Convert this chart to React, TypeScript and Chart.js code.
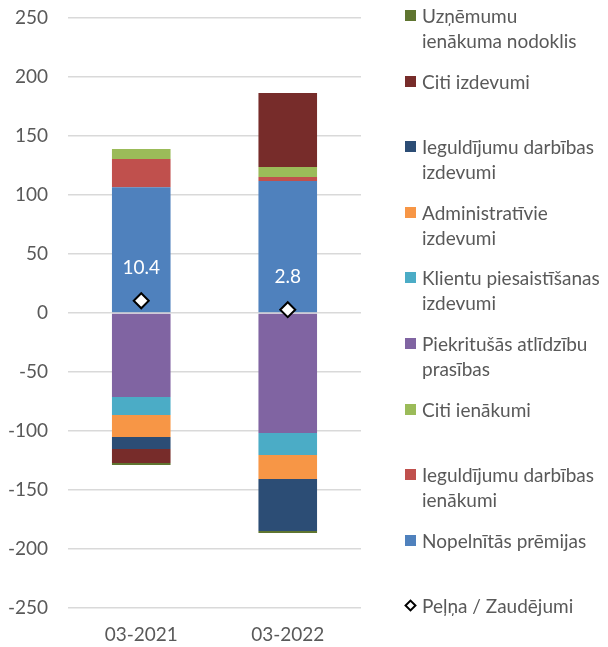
import React, { useEffect, useRef } from "react";
import { Chart, registerables } from "chart.js";

Chart.register(...registerables);

const CATEGORIES = ["03-2021", "03-2022"];

const NOPELNITAS_PREMIJAS = [106.5, 111.9];
const IEG_IENAKUMI = [24.0, 3.4];
const CITI_IENAKUMI = [8.5, 8.5];
const PIEKRITUSAS = [-71.2, -101.7];
const KLIENTU = [-15.2, -18.6];
const ADMINISTRATIVIE = [-18.7, -20.4];
const IEG_IZDEVUMI = [-10.2, -44.0];
const CITI_IZDEVUMI = [-11.8, 62.7];
const UIN = [-1.7, -1.7];
const PELNA = [10.4, 2.8];

const Y_TICKS = [-250, -200, -150, -100, -50, 0, 50, 100, 150, 200, 250];

// stacking order (bottom -> outward)
const SERIES = [
  { name: "Nopelnītās\u00a0prēmijas", data: NOPELNITAS_PREMIJAS, color: "#4F81BD" },
  { name: "Ieguldījumu darbības\nienākumi", data: IEG_IENAKUMI, color: "#C0504D" },
  { name: "Citi ienākumi", data: CITI_IENAKUMI, color: "#9BBB59" },
  { name: "Piekritušās atlīdzību\nprasības", data: PIEKRITUSAS, color: "#8064A2" },
  { name: "Klientu piesaistīšanas\nizdevumi", data: KLIENTU, color: "#4BACC6" },
  { name: "Administratīvie\nizdevumi", data: ADMINISTRATIVIE, color: "#F79646" },
  { name: "Ieguldījumu darbības\nizdevumi", data: IEG_IZDEVUMI, color: "#2C4D75" },
  { name: "Citi izdevumi", data: CITI_IZDEVUMI, color: "#772C2A" },
  { name: "Uzņēmumu\nienākuma nodoklis", data: UIN, color: "#5F7530" },
];
const PROFIT_NAME = "Peļņa / Zaudējumi";

const FONT = "Lato, 'Open Sans', sans-serif";
const TEXT = "#595959";

const labelPlugin = {
  id: "profitLabels",
  afterDatasetsDraw(chart: any) {
    const idx = chart.data.datasets.length - 1;
    const meta = chart.getDatasetMeta(idx);
    const ctx = chart.ctx;
    ctx.save();
    ctx.fillStyle = "#FFFFFF";
    ctx.font = `19px ${FONT}`;
    ctx.textAlign = "center";
    ctx.textBaseline = "middle";
    meta.data.forEach((pt: any, i: number) => {
      ctx.fillText(PELNA[i].toFixed(1), pt.x, pt.y - 33);
    });
    ctx.restore();
  },
};

export default function App() {
  const ref = useRef<HTMLCanvasElement>(null);

  useEffect(() => {
    document.body.style.margin = "0";
    const datasets: any[] = SERIES.map((s) => ({
      type: "bar",
      label: s.name.replace("\n", " "),
      data: s.data,
      backgroundColor: s.color,
      borderWidth: 0,
      stack: "s",
      order: 1,
      categoryPercentage: 1,
      barPercentage: 0.4,
    }));
    datasets.push({
      type: "line",
      label: PROFIT_NAME,
      data: PELNA,
      showLine: false,
      pointStyle: "rectRot",
      pointRadius: 7.5,
      pointBackgroundColor: "#FFFFFF",
      pointBorderColor: "#000000",
      pointBorderWidth: 2,
      stack: "p",
      order: 0,
    });
    const chart = new Chart(ref.current!, {
      type: "bar",
      data: { labels: CATEGORIES, datasets },
      options: {
        animation: false,
        responsive: false,
        layout: { padding: { top: 18, right: 19, left: 0, bottom: 0 } },
        plugins: { legend: { display: false }, tooltip: { enabled: false } },
        scales: {
          x: {
            stacked: true,
            grid: { display: false, drawTicks: false },
            border: { display: false },
            ticks: { color: TEXT, font: { family: FONT, size: 19 }, padding: 15 },
            afterFit: (s: any) => {
              s.height = 39;
            },
          },
          y: {
            stacked: true,
            min: -250,
            max: 250,
            afterBuildTicks: (s: any) => {
              s.ticks = Y_TICKS.map((v) => ({ value: v }));
            },
            grid: { color: "#D9D9D9", lineWidth: 1.5, drawTicks: false },
            border: { display: false },
            ticks: { color: TEXT, font: { family: FONT, size: 19 }, padding: 20 },
            afterFit: (s: any) => {
              s.width = 68;
              s.paddingTop = 10;
              s.paddingBottom = 10;
            },
          },
        },
      },
      plugins: [labelPlugin],
    } as any);
    return () => chart.destroy();
  }, []);

  const legendItems = [...SERIES].reverse();

  return (
    <div style={{ position: "fixed", left: 0, top: 0, width: 608, height: 647, background: "#fff" }}>
      <canvas ref={ref} width={380} height={647} style={{ position: "absolute", left: 0, top: 0, width: 380, height: 647 }} />
      <div style={{ position: "absolute", left: 405, top: 3, width: 203, fontFamily: FONT, fontSize: 19, color: TEXT }}>
        {legendItems.map((s) => (
          <div key={s.name} style={{ height: 65.6, display: "flex", alignItems: "flex-start" }}>
            <div style={{ width: 11, height: 11, background: s.color, marginTop: 7, flex: "none" }} />
            <div style={{ marginLeft: 6, lineHeight: "25px", whiteSpace: "pre", letterSpacing: 0 }}>{s.name}</div>
          </div>
        ))}
        <div style={{ height: 65.6, display: "flex", alignItems: "flex-start" }}>
          <div style={{ width: 11, height: 11, display: "flex", alignItems: "center", justifyContent: "center", marginTop: 7, flex: "none" }}>
            <div style={{ width: 5, height: 5, border: "2px solid #000", background: "#fff", transform: "rotate(45deg)" }} />
          </div>
          <div style={{ marginLeft: 6, lineHeight: "25px", whiteSpace: "pre" }}>{PROFIT_NAME}</div>
        </div>
      </div>
    </div>
  );
}
